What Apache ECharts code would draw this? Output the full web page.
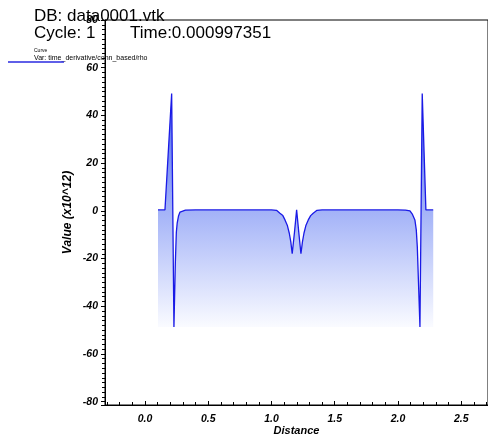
<!DOCTYPE html>
<html>
<head>
<meta charset="utf-8">
<script src="https://cdn.jsdelivr.net/npm/echarts@6/dist/echarts.min.js"></script>
<style>
  html, body { margin: 0; padding: 0; background: #fff; }
  #main { width: 488px; height: 437px; }
</style>
</head>
<body>
<div id="main"></div>
<script>
// curve samples (distance, value x10^12)
var distance = [0.103, 0.158, 0.211, 0.229, 0.240, 0.248, 0.255, 0.265, 0.277, 0.290, 0.320, 0.400,
  0.700, 1.000, 1.040, 1.067, 1.090, 1.107, 1.125, 1.141, 1.153, 1.164, 1.182, 1.199, 1.216, 1.233,
  1.245, 1.257, 1.273, 1.291, 1.310, 1.330, 1.360, 1.400, 1.700, 2.000, 2.060, 2.095, 2.115, 2.134,
  2.145, 2.153, 2.174, 2.192, 2.221, 2.279];
var values = [0.4, 0.4, 49.2, -48.7, -22, -9, -5, -2.2, -0.5, 0, 0.3, 0.4,
  0.4, 0.4, 0.2, -1, -2, -3.8, -6, -9.4, -13, -18, -9, 0.4, -9, -18,
  -13, -9.4, -6, -3.8, -2, -1, 0.2, 0.4, 0.4, 0.4, 0.3, 0, -1.5, -3.8,
  -8, -15, -48.7, 49.2, 0.4, 0.4];

var yTicks = { min: -81.4, max: 80, step: 20 };
var xTicks = { min: -0.316, max: 2.712, step: 0.5 };

var points = distance.map(function (d, i) { return [d, values[i]]; });
var lowest = Math.min.apply(null, values);

var chart = echarts.init(document.getElementById('main'));
var labelFont = { fontFamily: 'Liberation Sans', fontStyle: 'italic', fontWeight: 'bold', fontSize: 10.5, color: '#000' };
var nameFont = { fontFamily: 'Liberation Sans', fontStyle: 'italic', fontWeight: 'bold', fontSize: 12, color: '#000' };
var titleFont = { fontFamily: 'Liberation Sans', fontWeight: 'normal', fontSize: 17, color: '#000' };

chart.setOption({
  animation: false,
  title: [
    { text: 'DB: data0001.vtk', left: 29, top: 3, textStyle: titleFont },
    { text: 'Cycle: 1', left: 29, top: 20, textStyle: titleFont },
    { text: 'Time:0.000997351', left: 125, top: 20, textStyle: titleFont }
  ],
  graphic: [
    { type: 'text', left: 34, top: 48, style: { text: 'Curve', fontFamily: 'Liberation Sans', fontSize: 5, fill: '#000' } },
    { type: 'text', left: 34, top: 55, style: { text: 'Var: time_derivative/conn_based/rho', fontFamily: 'Liberation Sans', fontSize: 7, fill: '#000' } },
    { type: 'line', shape: { x1: 8, y1: 62, x2: 64, y2: 62 }, style: { stroke: '#2a2ae0', lineWidth: 1.5 } }
  ],
  grid: { left: 105, right: 0, top: 20, bottom: 32, outerBoundsMode: 'none', containLabel: false,
    show: true, borderColor: '#000', borderWidth: 1, backgroundColor: 'transparent' },
  xAxis: {
    type: 'value', min: xTicks.min, max: xTicks.max, minInterval: xTicks.step, maxInterval: xTicks.step,
    name: 'Distance', nameLocation: 'middle', nameGap: 20, nameMoveOverlap: false,
    nameTextStyle: Object.assign({}, nameFont, { fontSize: 11 }),
    axisLine: { onZero: false, lineStyle: { color: '#000', width: 1 } },
    axisTick: { inside: true, length: 4, lineStyle: { color: '#000' } },
    minorTick: { show: true, splitNumber: 5, length: 3, lineStyle: { color: '#000' } },
    axisLabel: Object.assign({ margin: 9, showMinLabel: false, showMaxLabel: false,
      formatter: function (v) { return v.toFixed(1); } }, labelFont),
    splitLine: { show: false }
  },
  yAxis: {
    type: 'value', min: yTicks.min, max: yTicks.max, minInterval: yTicks.step, maxInterval: yTicks.step,
    name: 'Value (x10^12)', nameLocation: 'middle', nameGap: 31, nameMoveOverlap: false,
    nameTextStyle: nameFont,
    axisLine: { show: true, onZero: false, lineStyle: { color: '#000', width: 1 } },
    axisTick: { show: true, inside: false, length: 4, lineStyle: { color: '#000' } },
    minorTick: { show: true, splitNumber: 10, length: 3, lineStyle: { color: '#000' } },
    axisLabel: Object.assign({ margin: 7, showMinLabel: false }, labelFont),
    splitLine: { show: false }
  },
  series: [{
    type: 'line',
    data: points,
    showSymbol: false,
    lineStyle: { color: '#1a1ae6', width: 1.3 },
    areaStyle: {
      origin: lowest,
      opacity: 1,
      color: new echarts.graphic.LinearGradient(0, 0, 0, 1, [
        { offset: 0, color: 'rgb(75,105,240)' },
        { offset: 1, color: 'rgb(250,251,255)' }
      ])
    }
  }]
});
</script>
</body>
</html>
